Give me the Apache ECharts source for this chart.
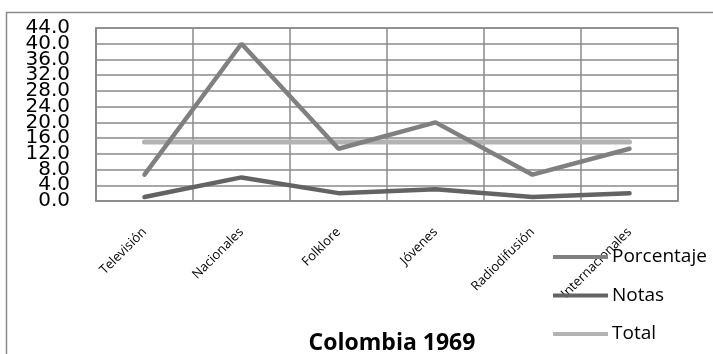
<!DOCTYPE html>
<html>
<head>
<meta charset="utf-8">
<script src="https://cdn.jsdelivr.net/npm/echarts@6/dist/echarts.min.js"></script>
<style>
  html, body { margin: 0; padding: 0; background: #fff; }
  #chart { width: 713px; height: 354px; }
</style>
</head>
<body>
<div id="chart"></div>
<script>
// Categories of notes and their counts, Colombia 1969
const categories = ['Televisión', 'Nacionales', 'Folklore', 'Jóvenes', 'Radiodifusión', 'Internacionales'];
const porcentaje = [6.7, 40.0, 13.3, 20.0, 6.7, 13.3];
const notas = [1, 6, 2, 3, 1, 2];
const total = [15, 15, 15, 15, 15, 15];
const seriesNames = ['Porcentaje', 'Notas', 'Total'];
const seriesColors = ['#808080', '#636363', '#b3b3b3'];
const yMin = 0, yMax = 44, yStep = 4;
const chartTitle = 'Colombia 1969';

const chart = echarts.init(document.getElementById('chart'), null, { renderer: 'canvas' });

const gridColor = '#8a8a8a';

// The tick labels are tall and sit close together, so they are split over two
// stacked value axes (even and odd steps) so that none of them gets dropped.
function valueAxis(showEven) {
  return {
    type: 'value',
    min: yMin, max: yMax, interval: yStep,
    position: 'left',
    axisLine: { show: showEven, lineStyle: { color: gridColor, width: 1.5 } },
    axisTick: { show: false },
    splitLine: { show: showEven, lineStyle: { color: gridColor, width: 1.5 } },
    axisLabel: {
      margin: 26,
      showMinLabel: true,
      showMaxLabel: true,
      hideOverlap: false,
      fontFamily: 'DejaVu Sans',
      fontSize: 20,
      color: '#000',
      formatter: v => {
        const even = Math.round(v / yStep) % 2 === 0;
        return even === showEven ? v.toFixed(1) : '';
      }
    }
  };
}

chart.setOption({
  animation: false,
  backgroundColor: '#ffffff',
  title: {
    text: chartTitle,
    left: 387,
    top: 327,
    textAlign: 'center',
    textStyle: { fontFamily: 'Open Sans', fontWeight: 'bold', fontSize: 23, color: '#000' }
  },
  legend: {
    orient: 'vertical',
    left: 553,
    top: 247,
    padding: 0,
    itemGap: 18.5,
    itemWidth: 55,
    itemHeight: 4,
    icon: 'rect',
    data: seriesNames,
    textStyle: { fontFamily: 'Open Sans', fontSize: 19, lineHeight: 20, color: '#000', padding: [0, 0, 0, -1] }
  },
  graphic: [{
    type: 'rect',
    shape: { x: 6.5, y: 12.5, width: 720, height: 360 },
    style: { fill: 'none', stroke: gridColor, lineWidth: 1.5 },
    silent: true,
    z: -1
  }],
  grid: {
    left: 96, top: 28, width: 582, height: 173,
    show: true, borderColor: gridColor, borderWidth: 1.5
  },
  xAxis: {
    type: 'category',
    data: categories,
    boundaryGap: true,
    axisLine: { show: true, lineStyle: { color: gridColor, width: 1.5 } },
    axisTick: { show: false },
    splitLine: { show: true, interval: 0, lineStyle: { color: gridColor, width: 1.5 } },
    axisLabel: {
      interval: 0,
      rotate: 45,
      margin: 29,
      fontFamily: 'Open Sans',
      fontSize: 13,
      color: '#000'
    }
  },
  yAxis: [valueAxis(true), valueAxis(false)],
  series: [
    { name: seriesNames[0], type: 'line', data: porcentaje, symbol: 'none',
      color: seriesColors[0], lineStyle: { width: 4.5, color: seriesColors[0], cap: 'round' }, z: 3 },
    { name: seriesNames[1], type: 'line', data: notas, symbol: 'none',
      color: seriesColors[1], lineStyle: { width: 4.5, color: seriesColors[1], cap: 'round' }, z: 4 },
    { name: seriesNames[2], type: 'line', data: total, symbol: 'none',
      color: seriesColors[2], lineStyle: { width: 5, color: seriesColors[2], cap: 'round' }, z: 2 }
  ]
});
</script>
</body>
</html>
